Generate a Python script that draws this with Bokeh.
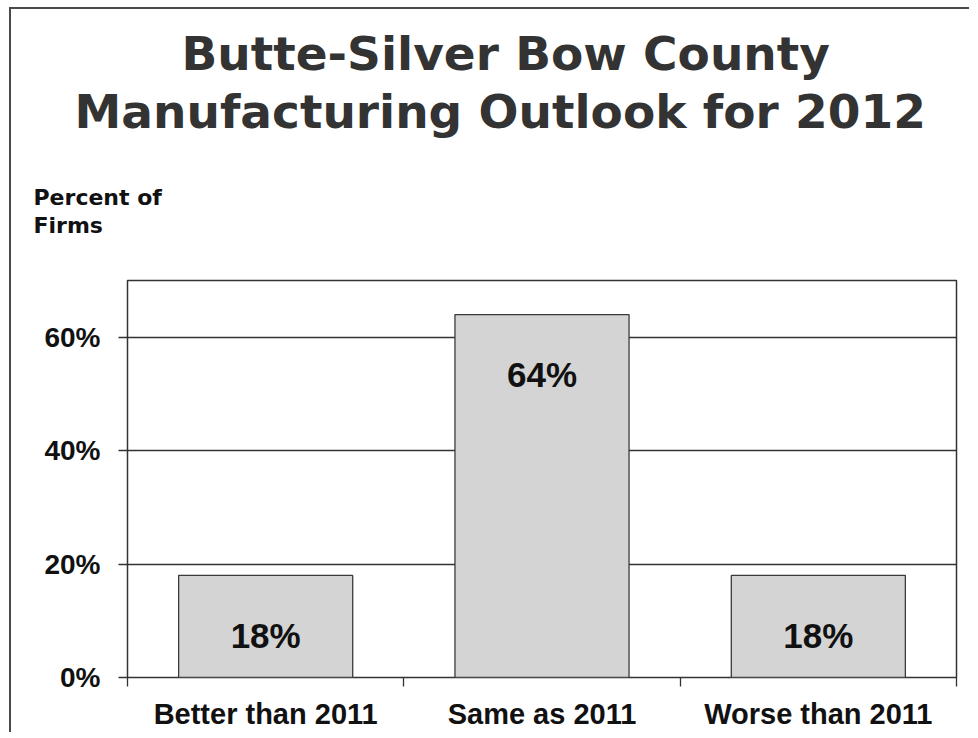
from bokeh.plotting import figure
from bokeh.models import (Range1d, FixedTicker, PrintfTickFormatter, LinearAxis,
                          ColumnDataSource, LabelSet, Title)
from bokeh.core.properties import value
from bokeh.embed import file_html
from bokeh.resources import INLINE

# ---- data ----
categories = ["Better than 2011", "Same as 2011", "Worse than 2011"]
percent_of_firms = [18, 64, 18]
y_ticks = [0, 20, 40, 60]
title_lines = ["Butte-Silver Bow County", "Manufacturing Outlook for 2012"]
y_title_lines = ["Percent of", "Firms"]

positions = [i + 0.5 for i in range(len(categories))]
boundaries = list(range(len(categories) + 1))

source = ColumnDataSource(dict(
    x=positions,
    top=percent_of_firms,
    label=[f"{v}%" for v in percent_of_firms],
))

p = figure(width=960, height=725, output_backend="svg", toolbar_location=None,
           x_range=Range1d(0, len(categories)), y_range=Range1d(0, 70),
           x_axis_location=None, y_axis_location=None,
           min_border_left=116, min_border_right=15, min_border_top=271,
           min_border_bottom=57)
p.styles = {"border-left": "2px solid #4a4a4a", "border-top": "2px solid #4a4a4a",
            "margin-left": "9px", "margin-top": "7px"}

p.outline_line_color = "#333333"
p.outline_line_width = 1.5
p.background_fill_color = "white"
p.border_fill_color = "white"

p.xgrid.visible = False
p.ygrid.ticker = FixedTicker(ticks=y_ticks)
p.ygrid.grid_line_color = "#333333"
p.ygrid.grid_line_width = 1.3

# y axis
yax = LinearAxis(ticker=FixedTicker(ticks=y_ticks),
                 formatter=PrintfTickFormatter(format="%d%%"))
yax.axis_line_color = None
yax.major_tick_line_color = "#333333"
yax.major_tick_line_width = 1.3
yax.major_tick_out = 9
yax.major_tick_in = 0
yax.minor_tick_line_color = None
yax.major_label_standoff = 18
yax.major_label_text_font = "Liberation Sans"
yax.major_label_text_font_style = "bold"
yax.major_label_text_font_size = "28px"
yax.major_label_text_color = "#111111"
p.add_layout(yax, "left")

# x axis: labels at category centers, ticks at category boundaries
xax = LinearAxis(ticker=FixedTicker(ticks=positions, minor_ticks=boundaries))
xax.major_label_overrides = {pos: cat for pos, cat in zip(positions, categories)}
xax.axis_line_color = None
xax.major_tick_line_color = None
xax.major_tick_out = 9
xax.major_tick_in = 0
xax.minor_tick_line_color = "#333333"
xax.minor_tick_line_width = 1.3
xax.minor_tick_out = 9
xax.minor_tick_in = 0
xax.major_label_standoff = 11
xax.major_label_text_font = "Liberation Sans"
xax.major_label_text_font_style = "bold"
xax.major_label_text_font_size = "29px"
xax.major_label_text_color = "#111111"
p.add_layout(xax, "below")

p.vbar(x="x", top="top", width=0.63, bottom=0, source=source,
       fill_color="#d4d4d4", line_color="#3a3a3a", line_width=1.3)

labels = LabelSet(x="x", y="top", text="label", source=source,
                  y_offset=-60, text_align="center", text_baseline="middle",
                  text_font=value("Liberation Sans"), text_font_style="bold",
                  text_font_size="35px", text_color="#111111")
p.add_layout(labels)

# y-axis title (nearest the frame)
p.add_layout(Title(text="\n".join(y_title_lines), align="left", offset=-94,
                   standoff=84, text_font="DejaVu Sans", text_font_style="bold",
                   text_font_size="22px", text_line_height=1.147,
                   text_color="#111111"), "above")

# second title line
p.add_layout(Title(text=title_lines[1], align="left", offset=-53, standoff=3,
                   text_font="DejaVu Sans", text_font_style="bold",
                   text_font_size="47px", text_color="#333333"), "above")

# first title line (outermost)
p.title.text = title_lines[0]
p.title.align = "left"
p.title.offset = 54
p.title.standoff = 0
p.title.text_font = "DejaVu Sans"
p.title.text_font_style = "bold"
p.title.text_font_size = "47px"
p.title.text_color = "#333333"

open("out.html", "w").write(file_html(p, INLINE))
